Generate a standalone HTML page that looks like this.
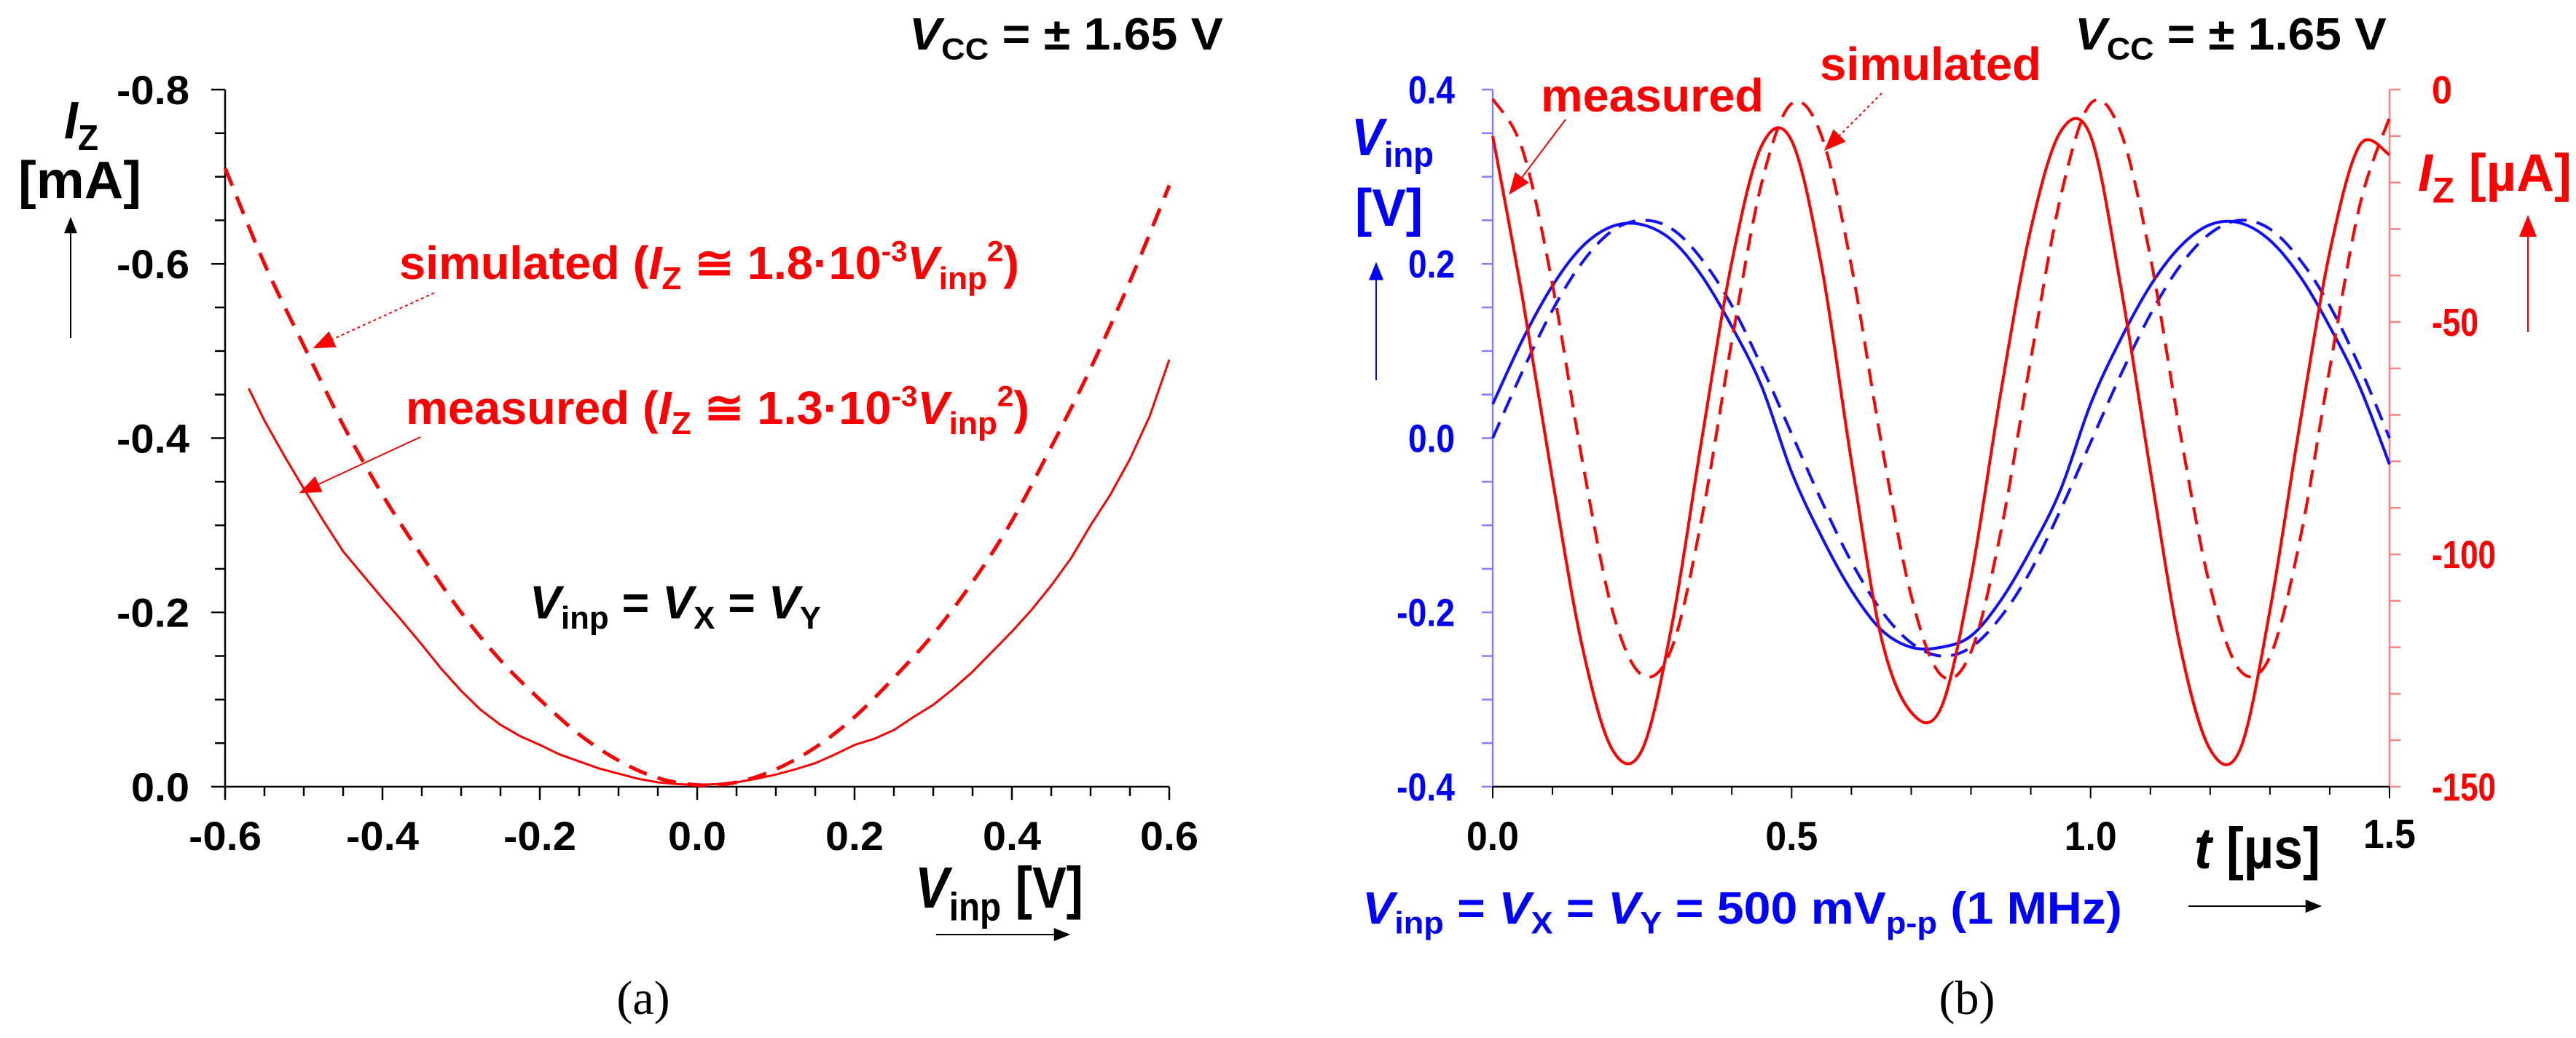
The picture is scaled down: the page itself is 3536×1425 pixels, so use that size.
<!DOCTYPE html>
<html><head><meta charset="utf-8">
<style>
html,body{margin:0;padding:0;background:#fff;}
svg{display:block;}
text{font-family:"Liberation Sans",sans-serif;font-weight:bold;}
.serif{font-family:"Liberation Serif",serif;font-weight:normal;}
</style></head>
<body>
<svg id="fig" width="3536" height="1425" viewBox="0 0 3536 1425" xmlns="http://www.w3.org/2000/svg">
<defs>
<marker id="ahr" viewBox="0 0 10 8" refX="9" refY="4" markerWidth="34" markerHeight="24" orient="auto" markerUnits="userSpaceOnUse"><path d="M0,0 L10,4 L0,8 z" fill="#f00"/></marker>
<marker id="ahb" viewBox="0 0 10 8" refX="9" refY="4" markerWidth="30" markerHeight="20" orient="auto" markerUnits="userSpaceOnUse"><path d="M0,0 L10,4 L0,8 z" fill="#00f"/></marker>
<marker id="ahk2" viewBox="0 0 10 8" refX="9" refY="4" markerWidth="40" markerHeight="18" orient="auto" markerUnits="userSpaceOnUse"><path d="M0,0 L10,4 L0,8 z" fill="#000"/></marker>
<marker id="ahk3" viewBox="0 0 10 8" refX="9" refY="4" markerWidth="34" markerHeight="18" orient="auto" markerUnits="userSpaceOnUse"><path d="M0,0 L10,4 L0,8 z" fill="#000"/></marker>
</defs>
<g id="panelA"></g>
<g id="panelB"></g>
</svg>
<script>
// ---------- Panel (a) data ----------
const aMeasV = [-0.57,-0.55,-0.525,-0.5,-0.475,-0.45,-0.425,-0.4,-0.375,-0.35,-0.325,-0.3,-0.275,-0.25,-0.225,-0.2,-0.175,-0.15,-0.125,-0.1,-0.075,-0.05,-0.025,0,0.025,0.05,0.075,0.1,0.125,0.15,0.175,0.2,0.225,0.25,0.275,0.3,0.325,0.35,0.375,0.4,0.425,0.45,0.475,0.5,0.525,0.55,0.575,0.6];
const aMeasI = [-0.457,-0.42,-0.38,-0.342,-0.305,-0.27,-0.243,-0.216,-0.19,-0.163,-0.135,-0.11,-0.088,-0.071,-0.058,-0.048,-0.037,-0.029,-0.021,-0.015,-0.009,-0.005,-0.003,-0.002,-0.003,-0.005,-0.009,-0.014,-0.02,-0.027,-0.037,-0.048,-0.055,-0.065,-0.08,-0.094,-0.112,-0.132,-0.155,-0.178,-0.203,-0.231,-0.262,-0.3,-0.335,-0.376,-0.425,-0.49];
const aSimV = [-0.6,-0.55,-0.5,-0.45,-0.4,-0.35,-0.3,-0.25,-0.2,-0.15,-0.1,-0.05,0,0.05,0.1,0.15,0.2,0.25,0.3,0.35,0.4,0.45,0.5,0.55,0.6];
const aSimI = [-0.71,-0.6,-0.506,-0.415,-0.335,-0.265,-0.2,-0.145,-0.1,-0.06,-0.03,-0.01,-0.002,-0.005,-0.02,-0.045,-0.08,-0.125,-0.175,-0.235,-0.305,-0.39,-0.48,-0.58,-0.69];
const aXTicks = [-0.6,-0.4,-0.2,0.0,0.2,0.4,0.6];
const aXTickLabels = ["-0.6","-0.4","-0.2","0.0","0.2","0.4","0.6"];
const aYTicks = [-0.8,-0.6,-0.4,-0.2,0.0];
const aYTickLabels = ["-0.8","-0.6","-0.4","-0.2","0.0"];

// ---------- Panel (b) data ----------
const bT = [0,0.05,0.1,0.15,0.2,0.25,0.3,0.35,0.4,0.45,0.5,0.55,0.6,0.65,0.7,0.75,0.8,0.85,0.9,0.95,1.0,1.05,1.1,1.15,1.2,1.25,1.3,1.35,1.4,1.45,1.5];
const bVinpMeas = [0.039,0.113,0.175,0.220,0.243,0.245,0.227,0.186,0.128,0.059,-0.039,-0.113,-0.175,-0.220,-0.240,-0.240,-0.227,-0.186,-0.128,-0.059,0.039,0.113,0.175,0.220,0.245,0.247,0.227,0.186,0.128,0.059,-0.03];
const bVinpSim = [0,0.077,0.147,0.202,0.238,0.25,0.240,0.205,0.152,0.082,0.005,-0.072,-0.142,-0.198,-0.235,-0.25,-0.240,-0.205,-0.152,-0.082,-0.005,0.072,0.142,0.198,0.235,0.25,0.240,0.205,0.152,0.082,0.0];
const bIzMeas = [-10,-45,-84,-120,-142,-142,-115,-75,-37,-12,-11,-38,-80,-118,-134,-133,-105,-65,-30,-9,-10,-42,-82,-120,-142,-142,-112,-72,-35,-12,-14];
const bIzSim = [-2,-13,-42,-80,-112,-126,-120,-92,-54,-20,-3,-10,-38,-76,-109,-126,-121,-95,-58,-23,-3,-9,-36,-74,-107,-125,-122,-97,-60,-25,-6];
const bXTicks = [0,0.5,1.0,1.5];
const bXTickLabels = ["0.0","0.5","1.0","1.5"];
const bYLTicks = [0.4,0.2,0.0,-0.2,-0.4];
const bYLTickLabels = ["0.4","0.2","0.0","-0.2","-0.4"];
const bYRTicks = [0,-50,-100,-150];
const bYRTickLabels = ["0","-50","-100","-150"];

const NS = "http://www.w3.org/2000/svg";
function mk(tag, attrs, parent){const e=document.createElementNS(NS,tag);for(const k in attrs)e.setAttribute(k,attrs[k]);parent.appendChild(e);return e;}
function lin(d0,d1,r0,r1){return v=>r0+(v-d0)/(d1-d0)*(r1-r0);}
function smoothPath(pts){
  let d="M"+pts[0][0].toFixed(1)+","+pts[0][1].toFixed(1);
  for(let i=0;i<pts.length-1;i++){
    const p0=pts[Math.max(0,i-1)],p1=pts[i],p2=pts[i+1],p3=pts[Math.min(pts.length-1,i+2)];
    const c1=[p1[0]+(p2[0]-p0[0])/6,p1[1]+(p2[1]-p0[1])/6];
    const c2=[p2[0]-(p3[0]-p1[0])/6,p2[1]-(p3[1]-p1[1])/6];
    d+=" C"+c1[0].toFixed(1)+","+c1[1].toFixed(1)+" "+c2[0].toFixed(1)+","+c2[1].toFixed(1)+" "+p2[0].toFixed(1)+","+p2[1].toFixed(1);
  }
  return d;
}
function linePath(pts){return "M"+pts.map(p=>p[0].toFixed(1)+","+p[1].toFixed(1)).join(" L");}
function rich(parent, parts, size, fill, x0, x1, base){
  const t=mk("text",{x:0,y:base,"font-size":size,fill:fill},parent);
  let shift=0;
  parts.forEach(p=>{
    const ts=mk("tspan",{},t);
    ts.textContent=p[0];
    const st=p[1]||"";
    if(st.includes("i")) ts.setAttribute("font-style","italic");
    let target=0;
    if(st.includes("s")){ts.setAttribute("font-size",size*0.68);target=size*0.22;}
    if(st.includes("p")){ts.setAttribute("font-size",size*0.62);target=-size*0.38;}
    if(target!==shift){ts.setAttribute("dy",target-shift);shift=target;}
  });
  const bb=t.getBBox();
  let s=(x1-x0)/bb.width;
  t.setAttribute("transform","translate("+x0+",0) scale("+s+",1) translate("+(-bb.x)+",0)");
  return t;
}

// ================= PANEL A =================
const A=document.getElementById("panelA");
const axL=309, axR=1605, ayT=123, ayB=1080;
const ax=lin(-0.6,0.6,axL,axR), ay=lin(0,-0.8,ayB,ayT);
const aAxes=mk("g",{stroke:"#000","stroke-width":2.5,fill:"none"},A);


mk("line",{x1:axL,y1:ayT,x2:axL,y2:ayB},aAxes);
mk("line",{x1:axL,y1:ayB,x2:axR,y2:ayB},aAxes);
for(let k=0;k<=16;k++){const v=-0.8+k*0.05;const yy=ay(v);mk("line",{x1:axL-(k%4===0?19:14),y1:yy,x2:axL,y2:yy},aAxes);}
for(let k=0;k<=24;k++){const v=-0.6+k*0.05;const xx=ax(v);mk("line",{x1:xx,y1:ayB,x2:xx,y2:ayB+(k%4===0?18:13)},aAxes);}
aYTicks.forEach((v,i)=>{
  const w=aYTickLabels[i].length>3?100:80;
  const t=rich(A,[[aYTickLabels[i]]],56,"#000",260-w,260,ay(v)+20);
  
  
});
aXTicks.forEach((v,i)=>{
  const w=aXTickLabels[i].length>3?100:80;
  const t=rich(A,[[aXTickLabels[i]]],56,"#000",ax(v)-w/2,ax(v)+w/2,1167);
  
  
});
const aSimPath=mk("path",{d:smoothPath(aSimV.map((v,i)=>[ax(v),ay(aSimI[i])])),stroke:"#f00","stroke-width":5,fill:"none","stroke-dasharray":"26 16"},A);


const aMeasPath=mk("path",{d:linePath(aMeasV.map((v,i)=>[ax(v),ay(aMeasI[i])])),stroke:"#f00","stroke-width":3,fill:"none"},A);


let t;
t=rich(A,[["V","i"],["CC","s"],[" = ± 1.65 V"]],62,"#000",1248,1679,68);


t=rich(A,[["I","i"],["Z","s"]],72,"#000",88,135,190);


t=rich(A,[["[mA]"]],72,"#000",25,194,272);


let ar=mk("line",{x1:97,y1:464,x2:97,y2:300,stroke:"#000","stroke-width":2,"marker-end":"url(#ahk3)"},A);


t=rich(A,[["simulated ("],["I","i"],["Z","s"],[" ≅ 1.8·10"],["-3","p"],["V","i"],["inp","s"],["2","p"],[")"]],64,"#f00",548,1399,383);


t=rich(A,[["measured ("],["I","i"],["Z","s"],[" ≅ 1.3·10"],["-3","p"],["V","i"],["inp","s"],["2","p"],[")"]],64,"#f00",557,1413,582);


ar=mk("line",{x1:596,y1:402,x2:432,y2:477,stroke:"#f00","stroke-width":2,"stroke-dasharray":"4 4","marker-end":"url(#ahr)"},A);


ar=mk("line",{x1:577,y1:600,x2:413,y2:676,stroke:"#f00","stroke-width":2,"marker-end":"url(#ahr)"},A);


t=rich(A,[["V","i"],["inp","s"],[" = "],["V","i"],["X","s"],[" = "],["V","i"],["Y","s"]],64,"#000",727,1127,849);


t=rich(A,[["V","i"],["inp","s"],[" [V]"]],80,"#000",1256,1487,1246);


ar=mk("line",{x1:1285,y1:1283,x2:1467,y2:1283,stroke:"#000","stroke-width":2,"marker-end":"url(#ahk2)"},A);


t=mk("text",{x:883,y:1392,"font-size":66,"text-anchor":"middle",class:"serif",fill:"#000"},A);
t.textContent="(a)";



// ================= PANEL B =================
const B=document.getElementById("panelB");
const bxL=2049, bxR=3280, byT=123, byB=1080;
const bx=lin(0,1.5,bxL,bxR), byl=lin(-0.4,0.4,byB,byT), byr=lin(-150,0,byB,byT);
const bAx=mk("g",{fill:"none"},B);


mk("line",{x1:bxL,y1:byT,x2:bxL,y2:byB,stroke:"#7f7fff","stroke-width":2.5},bAx);
for(let k=0;k<=16;k++){const yy=byl(-0.4+k*0.05);mk("line",{x1:bxL-15,y1:yy,x2:bxL,y2:yy,stroke:"#7f7fff","stroke-width":2.5},bAx);}
mk("line",{x1:bxR,y1:byT,x2:bxR,y2:byB,stroke:"#ff8080","stroke-width":2.5},bAx);
for(let k=0;k<=15;k++){const yy=byr(-150+k*10);mk("line",{x1:bxR,y1:yy,x2:bxR+15,y2:yy,stroke:"#ff8080","stroke-width":2.5},bAx);}
mk("line",{x1:bxL,y1:byB,x2:bxR,y2:byB,stroke:"#000","stroke-width":2.5},bAx);
for(let k=0;k<=15;k++){const xx=bx(k*0.1);mk("line",{x1:xx,y1:byB,x2:xx,y2:byB+(k%5===0?16:11),stroke:"#000","stroke-width":2},bAx);}
bYLTicks.forEach((v,i)=>{
  const w=bYLTickLabels[i].length>3?80:64;
  const t=rich(B,[[bYLTickLabels[i]]],54,"#00f",1997-w,1997,byl(v)+19);
  
  
});
bYRTicks.forEach((v,i)=>{
  const n=bYRTickLabels[i].length;
  const w=n===1?28:(n===3?64:88);
  const t=rich(B,[[bYRTickLabels[i]]],54,"#f00",3338,3338+w,byr(v)+19);
  
  
});
bXTicks.forEach((v,i)=>{
  const t=rich(B,[[bXTickLabels[i]]],56,"#000",bx(v)-36,bx(v)+36,i===3?1164:1167);
  
  
});
let p;
p=mk("path",{d:smoothPath(bT.map((v,i)=>[bx(v),byl(bVinpSim[i])])),stroke:"#1010ff","stroke-width":4,fill:"none","stroke-dasharray":"24 14"},B);


p=mk("path",{d:smoothPath(bT.map((v,i)=>[bx(v),byl(bVinpMeas[i])])),stroke:"#1010ff","stroke-width":4,fill:"none"},B);


p=mk("path",{d:smoothPath(bT.map((v,i)=>[bx(v),byr(bIzSim[i])])),stroke:"#f00","stroke-width":4,fill:"none","stroke-dasharray":"24 14"},B);


p=mk("path",{d:smoothPath(bT.map((v,i)=>[bx(v),byr(bIzMeas[i])])),stroke:"#f00","stroke-width":4,fill:"none"},B);


t=rich(B,[["V","i"],["CC","s"],[" = ± 1.65 V"]],62,"#000",2848,3276,68);


t=rich(B,[["measured"]],64,"#f00",2115,2421,153);


t=rich(B,[["simulated"]],64,"#f00",2498,2802,110);


ar=mk("line",{x1:2149,y1:164,x2:2073,y2:265,stroke:"#f00","stroke-width":2,"marker-end":"url(#ahr)"},B);


ar=mk("line",{x1:2583,y1:128,x2:2506,y2:205,stroke:"#f00","stroke-width":2,"stroke-dasharray":"4 4","marker-end":"url(#ahr)"},B);


t=rich(B,[["V","i"],["inp","s"]],72,"#00f",1855,1968,213);


t=rich(B,[["[V]"]],72,"#00f",1860,1953,310);


ar=mk("line",{x1:1889,y1:522,x2:1889,y2:362,stroke:"#00f","stroke-width":2,"marker-end":"url(#ahb)"},B);


t=rich(B,[["I","i"],["Z","s"],[" [µA]"]],72,"#f00",3319,3530,262);


ar=mk("line",{x1:3470,y1:456,x2:3470,y2:298,stroke:"#f00","stroke-width":2,"marker-end":"url(#ahr)"},B);


t=rich(B,[["t","i"],[" [µs]"]],80,"#000",3012,3185,1192);


ar=mk("line",{x1:3004,y1:1244,x2:3185,y2:1244,stroke:"#000","stroke-width":2,"marker-end":"url(#ahk2)"},B);


t=rich(B,[["V","i"],["inp","s"],[" = "],["V","i"],["X","s"],[" = "],["V","i"],["Y","s"],[" = 500 mV"],["p-p","s"],[" (1 MHz)"]],62,"#00f",1870,2913,1268);


t=mk("text",{x:2700,y:1392,"font-size":66,"text-anchor":"middle",class:"serif",fill:"#000"},B);
t.textContent="(b)";


</script>
</body></html>
